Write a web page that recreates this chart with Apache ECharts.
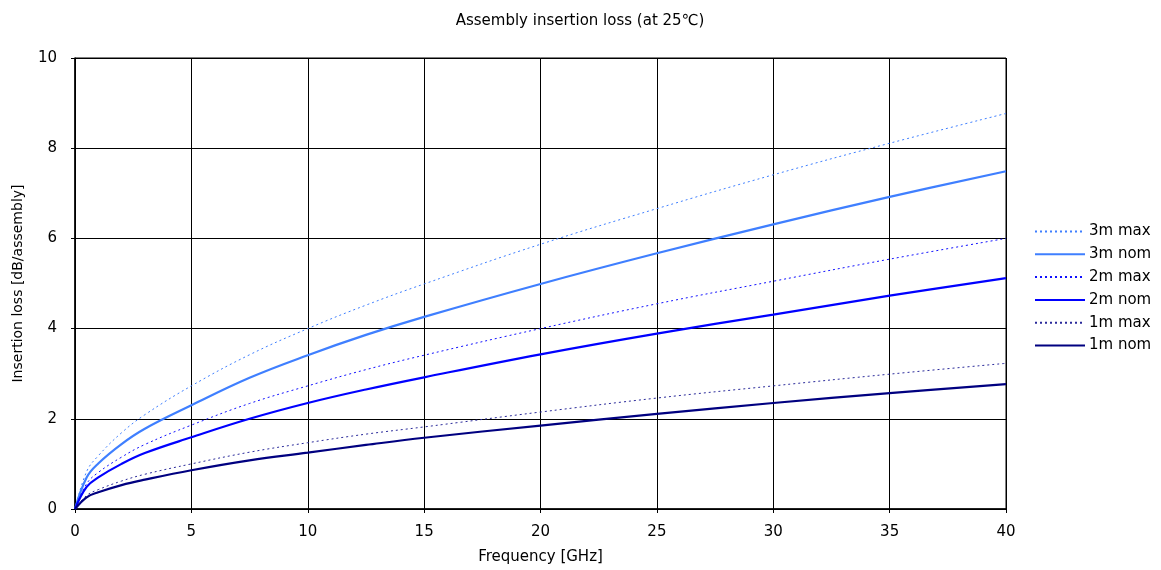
<!DOCTYPE html>
<html><head><meta charset="utf-8">
<script src="https://cdn.jsdelivr.net/npm/echarts@6/dist/echarts.min.js"></script>
<style>html,body{margin:0;padding:0;background:#fff}#c{width:1161px;height:570px}</style>
</head><body><div id="c"></div>
<script>
const freq = [0, 0.5, 1, 2, 3, 5, 7.5, 10, 12.5, 15, 20, 25, 30, 35, 40];
const m3max = [0, 0.83, 1.18, 1.69, 2.09, 2.73, 3.42, 4.00, 4.52, 4.99, 5.87, 6.66, 7.41, 8.11, 8.77];
const m3nom = [0, 0.70, 1.01, 1.44, 1.78, 2.30, 2.91, 3.41, 3.86, 4.26, 4.99, 5.67, 6.31, 6.92, 7.49];
const m2max = [0, 0.56, 0.81, 1.15, 1.43, 1.86, 2.34, 2.73, 3.09, 3.41, 4.00, 4.55, 5.05, 5.54, 6.00];
const m2nom = [0, 0.49, 0.70, 1.00, 1.24, 1.59, 2.00, 2.35, 2.65, 2.92, 3.43, 3.89, 4.31, 4.73, 5.12];
const m1max = [0, 0.30, 0.43, 0.62, 0.77, 1.00, 1.26, 1.47, 1.66, 1.82, 2.15, 2.46, 2.73, 2.99, 3.23];
const m1nom = [0, 0.26, 0.37, 0.53, 0.65, 0.86, 1.08, 1.25, 1.42, 1.58, 1.85, 2.11, 2.35, 2.57, 2.77];
const seriesNames = ['3m max', '3m nom', '2m max', '2m nom', '1m max', '1m nom'];
const seriesData = [m3max, m3nom, m2max, m2nom, m1max, m1nom];
const colors = ['#3f7fff', '#3f7fff', '#1010ff', '#0000ff', '#2a2a9a', '#000080'];
const font = '"DejaVu Sans", sans-serif';

const chart = echarts.init(document.getElementById('c'));
chart.setOption({
  animation: false,
  title: { text: 'Assembly insertion loss (at 25℃)', left: 575, top: 9, textAlign: 'center',
    textStyle: { fontSize: 15, fontWeight: 'normal', color: '#000', fontFamily: font } },
  legend: {
    orient: 'vertical', left: 1029, top: 219, itemWidth: 50, itemHeight: 12, itemGap: 7.8,
    itemStyle: { opacity: 0 },
    textStyle: { fontSize: 15, color: '#000', fontFamily: font, padding: [0, 0, 0, -1] },
    data: seriesNames
  },
  grid: { left: 75, right: 155, top: 58, bottom: 58, show: true, borderColor: '#000', borderWidth: 1 },
  xAxis: {
    type: 'value', min: 0, max: 40, interval: 5,
    name: 'Frequency [GHz]', nameLocation: 'middle', nameGap: 41,
    nameTextStyle: { fontSize: 15, color: '#000', fontFamily: font },
    axisLine: { lineStyle: { color: '#000', width: 1.5 } },
    axisTick: { show: true, length: 4, lineStyle: { color: '#000' } },
    axisLabel: { fontSize: 15, color: '#000', fontFamily: font, margin: 16 },
    splitLine: { show: true, lineStyle: { color: '#000', width: 1 } }
  },
  yAxis: {
    type: 'value', min: 0, max: 10, interval: 2,
    name: 'Insertion loss [dB/assembly]', nameLocation: 'middle', nameGap: 50,
    nameTextStyle: { fontSize: 14, color: '#000', fontFamily: font },
    axisLine: { show: true, lineStyle: { color: '#000', width: 1.5 } },
    axisTick: { show: true, length: 4, lineStyle: { color: '#000' } },
    axisLabel: { fontSize: 15, color: '#000', fontFamily: font, margin: 18 },
    splitLine: { show: true, lineStyle: { color: '#000', width: 1 } }
  },
  series: seriesNames.map((n, i) => ({
    name: n, type: 'line', smooth: 0.4, symbol: 'none',
    data: freq.map((f, j) => [f, seriesData[i][j]]),
    itemStyle: { color: colors[i] },
    lineStyle: { color: colors[i], width: i % 2 === 0 ? 1 : 2.2, type: i % 2 === 0 ? [2, 3] : 'solid' }
  }))
});
</script></body></html>
